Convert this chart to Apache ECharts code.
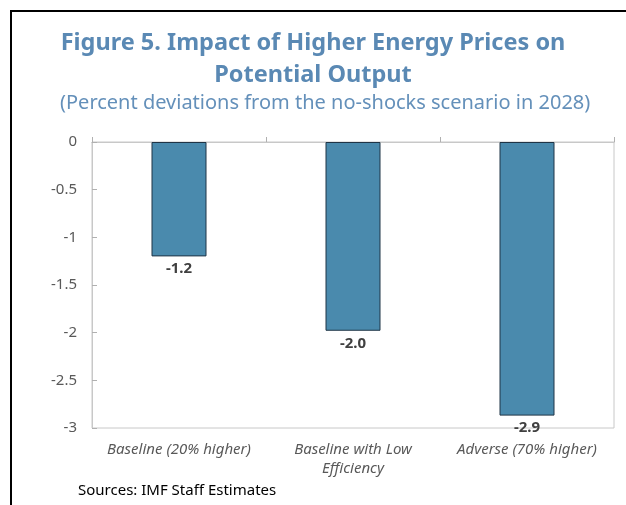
<!DOCTYPE html>
<html>
<head>
<meta charset="utf-8">
<script src="https://cdn.jsdelivr.net/npm/echarts@6/dist/echarts.min.js"></script>
<style>
  html, body { margin: 0; padding: 0; background: #fff; }
  #chart { width: 626px; height: 505px; }
</style>
</head>
<body>
<div id="chart"></div>
<script>
const categories = ['Baseline (20% higher)', 'Baseline with Low\nEfficiency', 'Adverse (70% higher)'];
const values = [-1.2, -1.98, -2.87];
const yTicks = { min: -3, max: 0, interval: 0.5 };

const chart = echarts.init(document.getElementById('chart'));
const font = '"Noto Sans", "Open Sans", sans-serif';

const option = {
    backgroundColor: '#ffffff',
    animation: false,
    textStyle: { fontFamily: font },
    title: [
        {
            text: 'Figure 5. Impact of Higher Energy Prices on\nPotential Output',
            left: 'center',
            top: 22,
            textStyle: { fontFamily: font, fontSize: 23.5, fontWeight: 'bold', color: '#5a89b4', lineHeight: 32 }
        },
        {
            text: '(Percent deviations from the no-shocks scenario in 2028)',
            left: 55,
            top: 88,
            textStyle: { fontFamily: font, fontSize: 20, fontWeight: 'normal', color: '#6490ba' }
        }
    ],
    grid: {
        left: 92, right: 12, top: 142, bottom: 77,
        show: true, borderColor: '#c8c8c8', borderWidth: 1
    },
    xAxis: [
        {
            type: 'category',
            data: categories,
            position: 'bottom',
            axisLine: { show: true, lineStyle: { color: '#c8c8c8' } },
            axisTick: { show: false },
            axisLabel: {
                interval: 0, margin: 12, fontFamily: font, fontSize: 15,
                fontStyle: 'italic', color: '#595959', lineHeight: 19
            }
        },
        {
            type: 'category',
            data: categories,
            position: 'top',
            axisLine: { show: true, lineStyle: { color: '#c8c8c8' } },
            axisTick: { show: true, length: 5, lineStyle: { color: '#b0b0b0' } },
            axisLabel: { show: false }
        }
    ],
    yAxis: {
        type: 'value',
        min: yTicks.min, max: yTicks.max, interval: yTicks.interval,
        axisLine: { show: true, lineStyle: { color: '#c8c8c8' } },
        axisTick: { show: true, inside: true, length: 5, lineStyle: { color: '#b0b0b0' } },
        splitLine: { show: false },
        axisLabel: { margin: 15, fontFamily: font, fontSize: 15, color: '#595959' }
    },
    series: [{
        type: 'bar',
        data: values,
        barWidth: 55,
        itemStyle: { color: '#4a8aad', borderColor: '#1f3446', borderWidth: 1 },
        label: {
            show: true,
            position: 'bottom',
            distance: 5,
            formatter: p => p.value.toFixed(1),
            fontFamily: font, fontSize: 15, fontWeight: 'bold', color: '#404040'
        }
    }],
    graphic: [
        {
            type: 'polyline',
            shape: { points: [[11, 505], [11, 11], [626, 11]] },
            style: { stroke: '#000', lineWidth: 2, fill: null }
        },
        {
            type: 'text',
            left: 78, top: 483,
            style: { text: 'Sources: IMF Staff Estimates', font: '15px ' + font, fill: '#000' }
        }
    ]
};

chart.setOption(option);
</script>
</body>
</html>
